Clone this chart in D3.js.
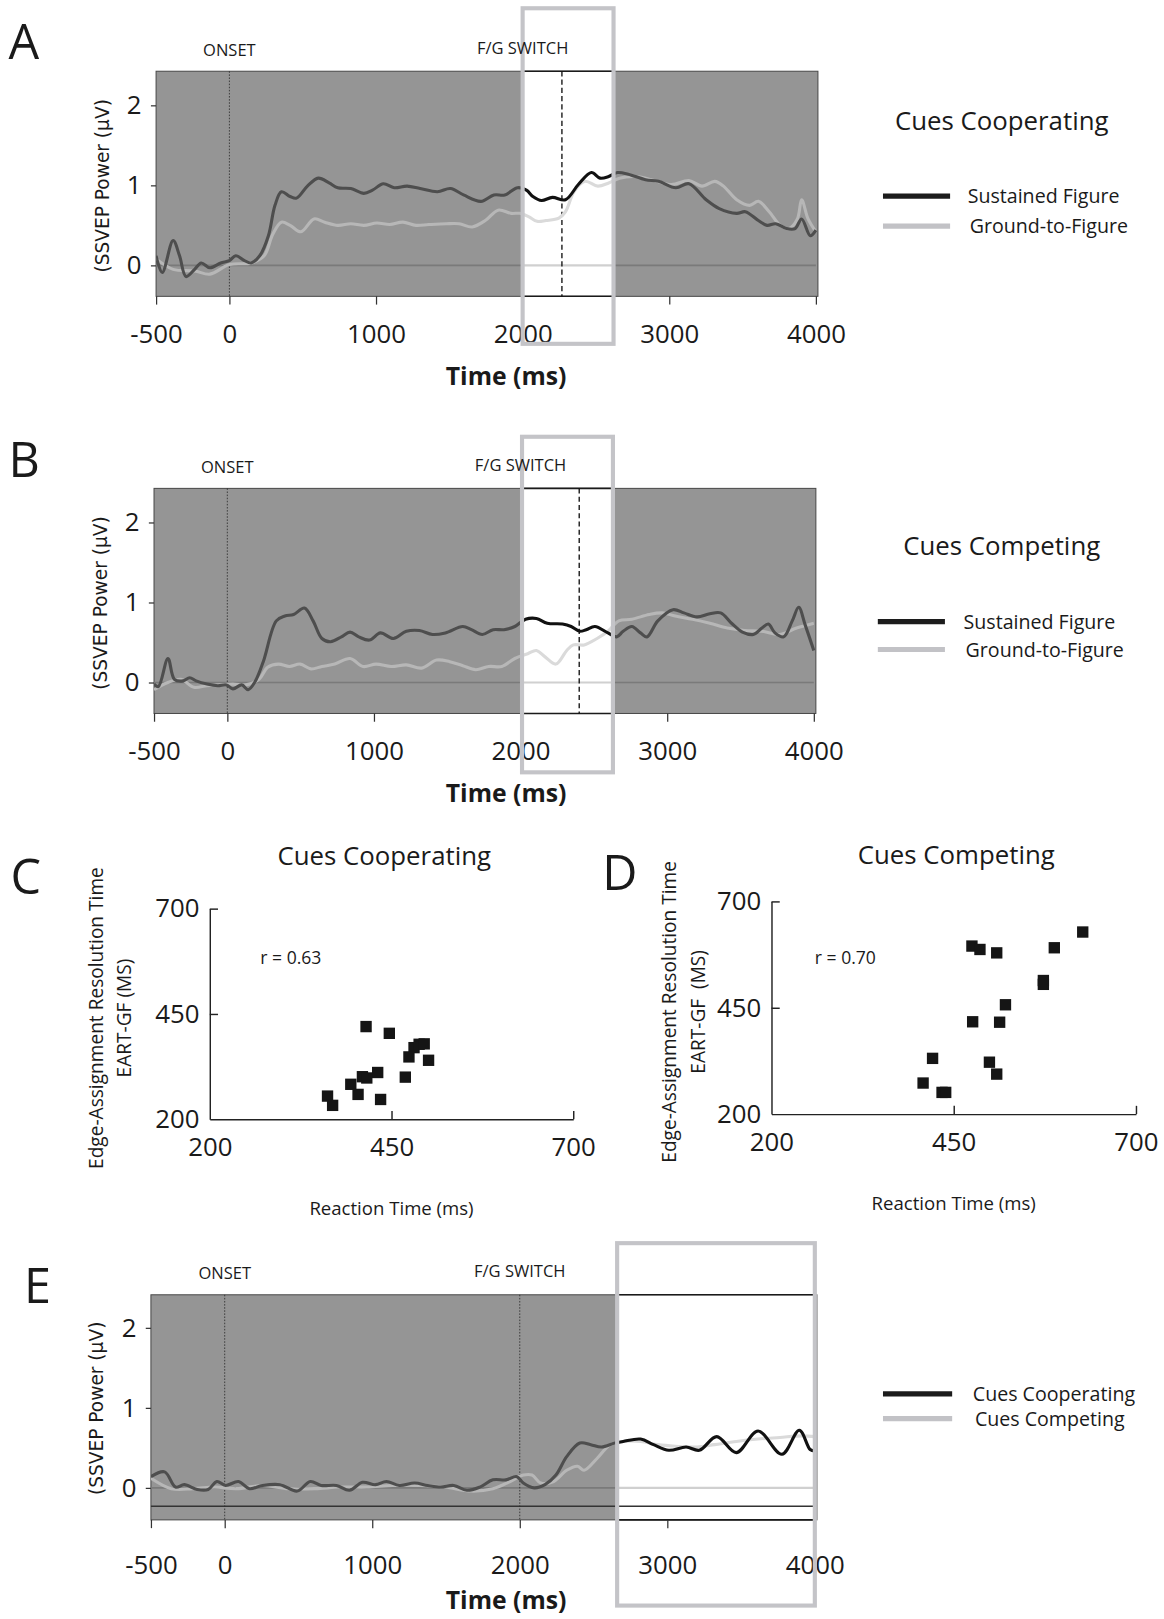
<!DOCTYPE html>
<html>
<head>
<meta charset="utf-8">
<script src="https://cdn.jsdelivr.net/npm/d3@7"></script>
<style>
  body { margin: 0; background: #fff; }
  text { font-family: "Open Sans", "Noto Sans", sans-serif; fill: #1a1a1a; }
</style>
</head>
<body>
<div id="fig"></div>
<script>

// ---- data ----
const timeTicks = [-500, 0, 1000, 2000, 3000, 4000];
const powerTicks = [0, 1, 2];
const rtTicks = [200, 450, 700];

// A: cues cooperating
const aSustMs = [-500,-458,-384,-340,-296,-237,-192,-133,-59,0,44,103,148,207,266,311,355,414,458,532,606,680,739,828,917,976,1050,1124,1212,1301,1419,1508,1597,1715,1804,1878,1966,2026,2070,2129,2203,2292,2380,2469,2528,2587,2647,2720,2838,2927,3045,3134,3252,3341,3460,3519,3608,3667,3726,3800,3859,3903,3962,4000];
const aSustUv = [0.12,-0.09,0.31,0.12,-0.14,-0.05,0.03,-0.03,0.03,0.06,0.12,0.06,0.03,0.12,0.37,0.75,0.92,0.86,0.84,0.99,1.09,1.03,0.97,0.96,0.90,0.94,1.02,0.97,0.99,0.96,0.92,0.96,0.88,0.80,0.88,0.88,0.97,0.94,0.86,0.81,0.85,0.82,1.01,1.16,1.09,1.11,1.16,1.14,1.07,1.05,0.97,1.02,0.82,0.71,0.65,0.67,0.56,0.50,0.52,0.46,0.46,0.58,0.37,0.44];
const aGrndMs = [-500,-384,-237,-133,0,148,237,296,355,414,488,577,650,739,828,917,1006,1094,1183,1272,1360,1478,1567,1656,1745,1833,1922,1981,2040,2099,2159,2247,2292,2351,2425,2513,2587,2661,2779,2897,3016,3134,3223,3311,3370,3460,3548,3608,3682,3756,3815,3874,3903,3947,4000];
const aGrndUv = [0.08,-0.05,-0.07,-0.11,0.01,0.03,0.12,0.39,0.54,0.50,0.42,0.58,0.54,0.50,0.52,0.50,0.53,0.51,0.54,0.50,0.51,0.52,0.52,0.48,0.56,0.69,0.65,0.65,0.61,0.55,0.56,0.59,0.67,0.92,1.05,0.99,1.03,1.09,1.11,1.06,1.01,1.06,0.99,1.05,0.99,0.82,0.75,0.80,0.67,0.50,0.46,0.58,0.82,0.58,0.42];

// B: cues competing
const bSustMs = [-500,-470,-405,-361,-302,-257,-213,-139,-65,-6,38,98,142,186,245,334,393,452,526,585,645,704,778,837,896,970,1044,1132,1221,1310,1399,1487,1606,1665,1739,1813,1887,1961,2034,2108,2182,2286,2345,2404,2448,2507,2596,2655,2700,2759,2818,2862,2936,3040,3114,3203,3291,3365,3439,3513,3587,3646,3690,3735,3794,3853,3897,3941,4000];
const bSustUv = [-0.02,-0.05,0.30,0.04,0.02,0.06,0.02,-0.02,-0.04,-0.03,-0.08,-0.03,-0.09,0.00,0.26,0.77,0.83,0.85,0.93,0.77,0.55,0.51,0.57,0.63,0.57,0.53,0.62,0.55,0.64,0.65,0.60,0.62,0.70,0.66,0.60,0.66,0.66,0.70,0.79,0.80,0.74,0.73,0.70,0.64,0.66,0.70,0.62,0.57,0.64,0.70,0.62,0.57,0.77,0.91,0.87,0.82,0.86,0.87,0.74,0.63,0.60,0.68,0.73,0.62,0.57,0.77,0.94,0.72,0.40];
const bGrndMs = [-500,-405,-316,-228,-139,-50,38,127,216,275,349,423,497,570,645,733,837,926,1014,1118,1221,1325,1428,1517,1606,1694,1783,1872,1961,2049,2108,2167,2241,2315,2360,2434,2522,2596,2670,2759,2877,2966,3055,3173,3291,3410,3528,3646,3764,3883,4000];
const bGrndUv = [-0.09,0.00,0.04,-0.06,-0.04,-0.03,-0.02,-0.03,0.04,0.19,0.23,0.20,0.23,0.17,0.20,0.23,0.30,0.20,0.23,0.20,0.22,0.18,0.28,0.26,0.21,0.16,0.20,0.20,0.30,0.36,0.40,0.32,0.23,0.40,0.47,0.47,0.55,0.64,0.77,0.79,0.85,0.87,0.83,0.79,0.74,0.68,0.65,0.64,0.60,0.68,0.74];

// E: cooperating vs competing
const eCoopMs = [-500,-407,-333,-274,-186,-112,-53,6,94,168,256,374,492,580,654,757,846,934,1022,1096,1184,1287,1376,1464,1553,1641,1729,1818,1906,1980,2024,2098,2171,2245,2318,2407,2481,2554,2643,2701,2819,2907,3010,3128,3217,3335,3468,3615,3777,3895,3968,4000];
const eCoopUv = [0.14,0.20,0.01,0.04,-0.02,-0.02,0.08,0.03,0.08,-0.01,0.03,0.04,-0.04,0.08,0.03,0.03,-0.03,0.07,0.04,0.08,0.03,0.06,0.03,0.01,0.03,-0.03,0.01,0.10,0.10,0.14,0.06,0.00,0.04,0.16,0.39,0.56,0.54,0.51,0.56,0.58,0.61,0.54,0.47,0.51,0.47,0.64,0.44,0.71,0.42,0.72,0.48,0.46];
const eCompMs = [-500,-362,-215,-68,80,256,433,610,787,963,1140,1317,1494,1670,1818,1935,2024,2083,2142,2230,2318,2392,2436,2525,2613,2701,2819,2937,3055,3202,3320,3468,3615,3762,3910,4000];
const eCompUv = [0.12,-0.01,-0.01,0.01,-0.01,0.03,-0.01,-0.01,0.01,0.01,0.03,0.03,0.01,-0.04,-0.01,0.08,0.16,0.16,0.06,0.08,0.22,0.27,0.22,0.37,0.54,0.58,0.58,0.54,0.52,0.51,0.54,0.58,0.61,0.63,0.65,0.64];

// C, D: reaction time vs EART-GF
const cRt   = [415,447,481,488,495,474,501,469,431,410,416,394,404,435,362,369];
const cEart = [420,404,370,378,379,348,340,300,311,301,298,283,259,247,255,233];
const dRt   = [627,588,475,486,509,573,573,521,476,513,421,499,509,408,434,439];
const dEart = [628,591,595,587,579,514,505,457,417,416,331,322,294,273,251,251];

// ---- drawing ----
const svg = d3.select('#fig').append('svg')
    .attr('width', 1164)
    .attr('height', 1619)
    .attr('viewBox', '0 0 1127 1568');
const defs = svg.append('defs');

const zip = (ms, uv) => ms.map((t, i) => ({t: t, v: uv[i]}));

function panelLetter(txt, x, y) {
    svg.append('text').attr('x', x).attr('y', y)
        .attr('font-size', 47)
        .text(txt);
}

function timePanel(o) {
    const x = d3.scaleLinear().domain([-500, 4000]).range([o.left, o.right]);
    const y = d3.scaleLinear().domain([0, 2]).range([o.zeroY, o.zeroY - 155]);
    const g = svg.append('g');
    const bx0 = x(o.box[0]), bx1 = x(o.box[1]);

    // background: gray everywhere, white inside the box
    g.append('rect')
        .attr('x', o.left).attr('y', o.top)
        .attr('width', o.right - o.left + 2).attr('height', o.bottom - o.top)
        .attr('fill', '#959595').attr('stroke', '#4a4a4a').attr('stroke-width', 1);
    g.append('rect')
        .attr('x', bx0).attr('y', o.top + 0.5)
        .attr('width', Math.min(bx1, o.right + 2) - bx0).attr('height', o.bottom - o.top - 1)
        .attr('fill', '#fff');

    defs.append('clipPath').attr('id', o.id + 'out')
        .selectAll('rect').data([[o.left, bx0], [bx1, o.right + 2]]).join('rect')
        .attr('x', d => d[0]).attr('y', o.top)
        .attr('width', d => Math.max(0, d[1] - d[0])).attr('height', o.bottom - o.top);
    defs.append('clipPath').attr('id', o.id + 'in')
        .append('rect').attr('x', bx0).attr('y', o.top)
        .attr('width', bx1 - bx0).attr('height', o.bottom - o.top);

    // zero line
    const zero = g.append('g');
    zero.append('line').attr('clip-path', `url(#${o.id}out)`)
        .attr('x1', o.left).attr('x2', o.right).attr('y1', y(0)).attr('y2', y(0))
        .attr('stroke', '#7a7a7a').attr('stroke-width', 1.5);
    zero.append('line').attr('clip-path', `url(#${o.id}in)`)
        .attr('x1', o.left).attr('x2', o.right + 2).attr('y1', y(0)).attr('y2', y(0))
        .attr('stroke', '#d0d0d0').attr('stroke-width', 2);

    // extra dark baseline (panel E)
    if (o.baseV !== undefined) {
        g.append('line')
            .attr('x1', o.left).attr('x2', o.right).attr('y1', y(o.baseV)).attr('y2', y(o.baseV))
            .attr('stroke', '#333').attr('stroke-width', 1.4);
    }

    // top / bottom black edges across the box
    g.selectAll('.edge').data([o.top, o.bottom]).join('line')
        .attr('x1', bx0).attr('x2', Math.min(bx1, o.right + 1))
        .attr('y1', d => d).attr('y2', d => d)
        .attr('stroke', '#1a1a1a').attr('stroke-width', 1.5);

    // event markers
    g.selectAll('.mark').data(o.marks).join('line')
        .attr('x1', d => x(d)).attr('x2', d => x(d))
        .attr('y1', o.top).attr('y2', o.bottom)
        .attr('stroke', '#2a2a2a').attr('stroke-width', 0.8)
        .attr('stroke-dasharray', '1.5,1.5');
    if (o.dash !== undefined) {
        g.append('line')
            .attr('x1', x(o.dash)).attr('x2', x(o.dash))
            .attr('y1', o.top).attr('y2', o.bottom)
            .attr('stroke', '#111').attr('stroke-width', 1.3)
            .attr('stroke-dasharray', '5,3');
    }

    // traces
    const line = d3.line()
        .x(d => x(d.t)).y(d => y(d.v))
        .curve(d3.curveCatmullRom.alpha(0.5));
    const styles = [
        {data: o.light, out: '#b7b7b7', inn: '#dadada'},
        {data: o.dark,  out: '#4e4e4e', inn: '#111'}
    ];
    styles.forEach(s => {
        g.append('path').datum(s.data).attr('d', line)
            .attr('clip-path', `url(#${o.id}out)`)
            .attr('fill', 'none').attr('stroke', s.out).attr('stroke-width', 3);
        g.append('path').datum(s.data).attr('d', line)
            .attr('clip-path', `url(#${o.id}in)`)
            .attr('fill', 'none').attr('stroke', s.inn).attr('stroke-width', 3);
    });

    // axes
    const xAxis = g.append('g')
        .attr('transform', 'translate(0,' + o.bottom + ')')
        .call(d3.axisBottom(x).tickValues(timeTicks).tickSize(8)
            .tickPadding(o.xPad).tickFormat(d => String(d)));
    const yAxis = g.append('g')
        .attr('transform', 'translate(' + o.left + ',0)')
        .call(d3.axisLeft(y).tickValues(powerTicks).tickSize(5).tickPadding(9)
            .tickFormat(d => String(d)));
    [xAxis, yAxis].forEach(a => {
        a.select('.domain').remove();
        a.selectAll('line').attr('stroke', '#333').attr('stroke-width', 1.2);
        a.selectAll('text').attr('font-size', 25).attr('fill', '#1a1a1a');
    });

    // highlight box
    g.append('rect')
        .attr('x', bx0).attr('y', o.boxTop)
        .attr('width', bx1 - bx0).attr('height', o.boxBottom - o.boxTop)
        .attr('fill', 'none').attr('stroke', '#c4c4c8').attr('stroke-width', 4);

    // labels
    g.append('text').attr('x', x(0)).attr('y', o.top - 15)
        .attr('text-anchor', 'middle').attr('font-size', 16).text('ONSET');
    g.append('text').attr('x', x(2000)).attr('y', o.top - 17)
        .attr('text-anchor', 'middle').attr('font-size', 16).text('F/G SWITCH');
    g.append('text')
        .attr('transform', 'translate(' + (o.left - 46) + ',' + (o.zeroY - 77) + ') rotate(-90)')
        .attr('text-anchor', 'middle').attr('font-size', 18)
        .style('font-family', '"DejaVu Sans", Verdana, sans-serif')
        .text('(SSVEP Power (\u03bcV)');
    g.append('text').attr('x', 490).attr('y', o.bottom + o.titleDy)
        .attr('text-anchor', 'middle').attr('font-size', 24).attr('font-weight', 700)
        .text('Time (ms)');
}

function legend(o) {
    const g = svg.append('g');
    if (o.title) {
        g.append('text').attr('x', 970).attr('y', o.titleY)
            .attr('text-anchor', 'middle').attr('font-size', 25).text(o.title);
    }
    g.selectAll('line').data(o.items).join('line')
        .attr('x1', o.x0).attr('x2', o.x1)
        .attr('y1', (d, i) => o.y + i * o.step).attr('y2', (d, i) => o.y + i * o.step)
        .attr('stroke', (d, i) => i === 0 ? '#1c1c1c' : '#c2c2c6')
        .attr('stroke-width', 5);
    g.selectAll('text.item').data(o.items).join('text')
        .attr('class', 'item')
        .attr('x', (d, i) => o.tx + i * 2).attr('y', (d, i) => o.y + i * o.step + 7)
        .attr('font-size', 19).text(d => d);
}

function scatter(o) {
    const x = d3.scaleLinear().domain([200, 700]).range([o.left, o.right]);
    const y = d3.scaleLinear().domain([200, 700]).range([o.bottom, o.top]);
    const g = svg.append('g');

    const xAxis = g.append('g')
        .attr('transform', 'translate(0,' + o.bottom + ')')
        .call(d3.axisBottom(x).tickValues(rtTicks).tickSize(-8).tickSizeOuter(0).tickPadding(18));
    const yAxis = g.append('g')
        .attr('transform', 'translate(' + o.left + ',0)')
        .call(d3.axisLeft(y).tickValues(rtTicks).tickSize(-8).tickSizeOuter(0).tickPadding(10));
    [xAxis, yAxis].forEach(a => {
        a.selectAll('.domain, line').attr('stroke', '#222').attr('stroke-width', 1.4);
        a.selectAll('text').attr('font-size', 25).attr('fill', '#1a1a1a');
    });
    // no tick mark at the shared origin
    xAxis.selectAll('.tick').filter(d => d === 200).select('line').remove();
    yAxis.selectAll('.tick').filter(d => d === 200).select('line').remove();

    g.selectAll('rect.pt').data(o.rt.map((r, i) => [r, o.eart[i]])).join('rect')
        .attr('class', 'pt')
        .attr('x', d => x(d[0]) - 5.5).attr('y', d => y(d[1]) - 5.5)
        .attr('width', 11).attr('height', 11).attr('fill', '#151515');

    g.append('text').attr('x', o.titleX).attr('y', o.titleY)
        .attr('text-anchor', 'middle').attr('font-size', 25).text(o.title);
    g.append('text').attr('x', o.rX).attr('y', 934)
        .attr('font-size', 17).text(o.rLabel);
    g.append('text').attr('x', (o.left + o.right) / 2).attr('y', o.bottom + 93)
        .attr('text-anchor', 'middle').attr('font-size', 18).text('Reaction Time (ms)');
    const cy = (o.top + o.bottom) / 2 + 4;
    g.append('text')
        .attr('transform', 'translate(' + (o.left - o.yl1) + ',' + cy + ') rotate(-90)')
        .attr('text-anchor', 'middle').attr('font-size', 18.5)
        .text('Edge-Assignment Resolution Time');
    g.append('text')
        .attr('transform', 'translate(' + (o.left - o.yl2) + ',' + cy + ') rotate(-90)')
        .attr('text-anchor', 'middle').attr('font-size', 18.5).attr('xml:space', 'preserve')
        .text(o.yLabel2);
}

// A
panelLetter('A', 8, 57);
timePanel({
    id: 'pa', left: 151, right: 790, top: 69, bottom: 287, zeroY: 257,
    box: [2000, 2620], boxTop: 8, boxBottom: 333, marks: [0], dash: 2268,
    dark: zip(aSustMs, aSustUv), light: zip(aGrndMs, aGrndUv),
    xPad: 19, titleDy: 86
});
legend({title: 'Cues Cooperating', titleY: 126, x0: 855, x1: 920, y: 190, step: 29, tx: 937,
    items: ['Sustained Figure', 'Ground-to-Figure']});

// B
panelLetter('B', 8, 462);
timePanel({
    id: 'pb', left: 149, right: 788, top: 473, bottom: 691, zeroY: 661,
    box: [2010, 2630], boxTop: 423, boxBottom: 748, marks: [0], dash: 2400,
    dark: zip(bSustMs, bSustUv), light: zip(bGrndMs, bGrndUv),
    xPad: 19, titleDy: 86
});
legend({title: 'Cues Competing', titleY: 538, x0: 850, x1: 915, y: 602, step: 27, tx: 933,
    items: ['Sustained Figure', 'Ground-to-Figure']});

// C
panelLetter('C', 10, 866);
scatter({left: 203, right: 555, top: 880, bottom: 1084, rt: cRt, eart: cEart,
    title: 'Cues Cooperating', titleX: 372, titleY: 838, rX: 252, rLabel: 'r = 0.63',
    yl1: 103, yl2: 76, yLabel2: 'EART-GF (MS)'});

// D
panelLetter('D', 583, 862);
scatter({left: 747, right: 1100, top: 873, bottom: 1079, rt: dRt, eart: dEart,
    title: 'Cues Competing', titleX: 926, titleY: 837, rX: 789, rLabel: 'r = 0.70',
    yl1: 92, yl2: 64, yLabel2: 'EART-GF  (MS)'});

// E
panelLetter('E', 23, 1262);
timePanel({
    id: 'pe', left: 146, right: 789, top: 1254, bottom: 1472, zeroY: 1441,
    box: [2660, 4000], boxTop: 1204, boxBottom: 1555, marks: [0, 2000], baseV: -0.23,
    dark: zip(eCoopMs, eCoopUv), light: zip(eCompMs, eCompUv),
    xPad: 27, titleDy: 86
});
legend({x0: 855, x1: 922, y: 1350, step: 24, tx: 942,
    items: ['Cues Cooperating', 'Cues Competing']});

</script>
</body>
</html>
